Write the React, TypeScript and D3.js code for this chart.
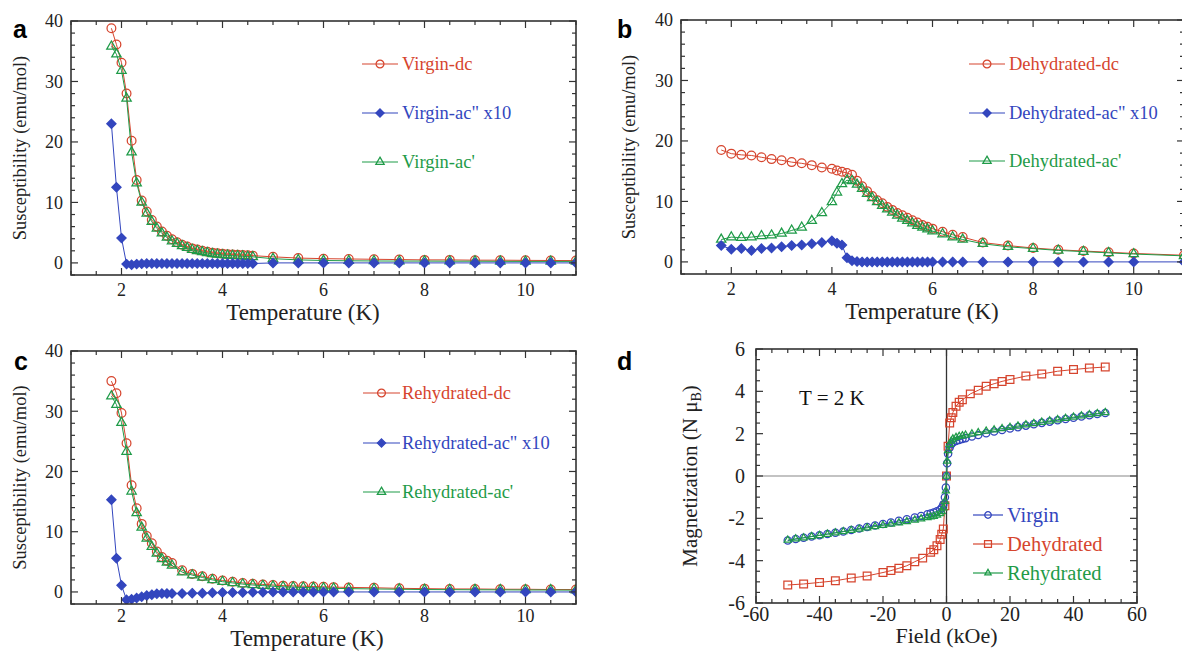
import React from 'react';
import * as d3 from 'd3';

const RED = '#d6452e';
const BLUE = '#3346be';
const GREEN = '#1f9b48';
const INK = '#222';
const SERIF = "'Liberation Serif', serif";
const SANS = "'Liberation Sans', Arial, sans-serif";

// ---------- Panel a: Virgin ----------
const tempA = [1.8,1.9,2.0,2.1,2.2,2.3,2.4,2.5,2.6,2.7,2.8,2.9,3.0,3.1,3.2,3.3,3.4,3.5,3.6,3.7,3.8,3.9,4.0,4.1,4.2,4.3,4.4,4.5,4.6,5.0,5.5,6.0,6.5,7.0,7.5,8.0,8.5,9.0,9.5,10.0,10.5,11.0];
const virginDc = [38.8,36.1,33.1,28.0,20.2,13.7,10.3,8.5,7.1,6.0,5.2,4.5,3.9,3.4,3.0,2.7,2.4,2.2,2.0,1.85,1.7,1.6,1.5,1.45,1.4,1.35,1.3,1.25,1.2,1.0,0.8,0.7,0.65,0.6,0.55,0.5,0.5,0.45,0.45,0.42,0.4,0.38];
const virginAc2 = [23.0,12.5,4.1,-0.2,-0.3,-0.2,-0.15,-0.1,-0.1,-0.1,-0.1,-0.1,-0.1,-0.1,-0.1,-0.1,-0.1,-0.1,-0.1,-0.1,-0.1,-0.1,-0.1,-0.1,-0.1,-0.1,-0.1,-0.1,-0.1,0,0,0,0,0,0,0,0,0,0,0,0,0];
const virginAc1 = [35.8,34.5,31.8,27.2,18.3,13.2,10.0,8.2,6.8,5.7,4.9,4.2,3.6,3.2,2.8,2.5,2.2,2.0,1.8,1.65,1.5,1.4,1.3,1.25,1.2,1.15,1.1,1.05,1.0,0.7,0.5,0.4,0.35,0.32,0.3,0.3,0.28,0.28,0.26,0.25,0.25,0.25];

// ---------- Panel b: Dehydrated ----------
const tempB = [1.8,2.0,2.2,2.4,2.6,2.8,3.0,3.2,3.4,3.6,3.8,4.0,4.1,4.2,4.3,4.4,4.5,4.6,4.7,4.8,4.9,5.0,5.1,5.2,5.3,5.4,5.5,5.6,5.7,5.8,5.9,6.0,6.2,6.4,6.6,7.0,7.5,8.0,8.5,9.0,9.5,10.0,11.0];
const dehydDc = [18.5,17.9,17.7,17.6,17.3,17.0,16.8,16.5,16.3,16.0,15.6,15.4,15.1,14.9,14.7,14.4,13.4,12.5,11.7,10.9,10.2,9.7,9.1,8.6,8.1,7.7,7.3,6.9,6.5,6.1,5.8,5.5,5.0,4.5,4.1,3.2,2.7,2.3,2.0,1.8,1.6,1.4,1.1];
const dehydAc2 = [2.7,2.1,2.2,1.9,2.2,2.3,2.5,2.7,2.8,3.0,3.2,3.5,3.1,2.8,0.7,0.2,0.05,0,0,0,0,0,0,0,0,0,0,0,0,0,0,0,0,0,0,0,0,0,0,0,0,0,0];
const dehydAc1 = [3.7,4.1,4.0,4.1,4.3,4.4,4.7,5.2,5.7,6.8,8.1,9.9,11.5,12.9,13.5,13.4,12.8,12.1,11.3,10.6,9.9,9.3,8.7,8.2,7.7,7.2,6.8,6.4,6.0,5.7,5.4,5.1,4.6,4.1,3.7,3.0,2.5,2.2,1.9,1.7,1.5,1.3,1.0];

// ---------- Panel c: Rehydrated ----------
const tempC = [1.8,1.9,2.0,2.1,2.2,2.3,2.4,2.5,2.6,2.7,2.8,2.9,3.0,3.2,3.4,3.6,3.8,4.0,4.2,4.4,4.6,4.8,5.0,5.2,5.4,5.6,5.8,6.0,6.2,6.5,7.0,7.5,8.0,8.5,9.0,9.5,10.0,10.5,11.0];
const rehydDc = [35.0,33.0,29.7,24.7,17.7,13.9,11.3,9.3,8.1,6.7,5.8,5.2,4.8,3.6,3.0,2.6,2.2,1.9,1.7,1.5,1.35,1.25,1.15,1.05,1.0,0.95,0.9,0.85,0.8,0.75,0.7,0.6,0.55,0.5,0.5,0.45,0.45,0.4,0.4];
const rehydAc2 = [15.3,5.6,1.1,-1.3,-1.2,-1.0,-0.8,-0.6,-0.45,-0.3,-0.25,-0.25,-0.25,-0.25,-0.2,-0.2,-0.15,-0.1,-0.1,-0.1,-0.05,-0.05,0,0,0,0,0,0,0,0,0,0,0,0,0,0,0,0,0];
const rehydAc1 = [32.5,31.1,28.1,23.3,16.7,13.1,10.7,8.9,7.5,6.4,5.5,4.9,4.4,3.3,2.8,2.4,2.0,1.7,1.5,1.3,1.15,1.05,0.95,0.85,0.8,0.75,0.7,0.65,0.6,0.55,0.5,0.45,0.4,0.38,0.36,0.35,0.33,0.32,0.3];

// ---------- Panel d: M(H) at 2 K ----------
const fieldVR = [-50,-47.5,-45,-42.5,-40,-37.5,-35,-32.5,-30,-27.5,-25,-22.5,-20,-17.5,-15,-12.5,-10,-8,-6,-5,-4,-3,-2,-1.5,-1,-0.5,-0.2,0,0.2,0.5,1,1.5,2,3,4,5,6,8,10,12.5,15,17.5,20,22.5,25,27.5,30,32.5,35,37.5,40,42.5,45,47.5,50];
const virginM = [-3.05,-2.98,-2.92,-2.86,-2.8,-2.74,-2.68,-2.62,-2.55,-2.48,-2.41,-2.34,-2.27,-2.2,-2.12,-2.04,-1.96,-1.89,-1.81,-1.77,-1.72,-1.67,-1.6,-1.5,-1.35,-1.0,-0.55,0,0.6,1.05,1.35,1.5,1.58,1.65,1.7,1.75,1.79,1.87,1.94,2.02,2.1,2.17,2.24,2.31,2.38,2.45,2.51,2.57,2.63,2.69,2.75,2.81,2.87,2.93,2.98];
const rehydM = [-3.03,-2.97,-2.92,-2.86,-2.81,-2.75,-2.69,-2.63,-2.57,-2.51,-2.45,-2.39,-2.33,-2.27,-2.21,-2.15,-2.08,-2.02,-1.96,-1.93,-1.9,-1.85,-1.78,-1.68,-1.5,-1.2,-0.7,0,0.7,1.2,1.5,1.65,1.75,1.82,1.87,1.9,1.93,1.99,2.05,2.12,2.18,2.24,2.3,2.36,2.42,2.48,2.54,2.6,2.66,2.72,2.78,2.84,2.9,2.95,3.0];
const fieldD = [-50,-45,-40,-35,-30,-25,-20,-17.5,-15,-12.5,-10,-7.5,-5,-4,-3,-2,-1.5,-1,-0.5,0,0.5,1,1.5,2,3,4,5,7.5,10,12.5,15,17.5,20,25,30,35,40,45,50];
const dehydM = [-5.15,-5.1,-5.03,-4.95,-4.82,-4.72,-4.56,-4.47,-4.36,-4.24,-4.05,-3.88,-3.6,-3.48,-3.3,-3.0,-2.75,-2.5,-1.4,0,1.4,2.5,2.75,3.0,3.3,3.48,3.6,3.88,4.05,4.24,4.36,4.47,4.56,4.72,4.82,4.95,5.03,5.1,5.15];

// ticks
const tempMajor = [2, 4, 6, 8, 10];
const susMajor = [0, 10, 20, 30, 40];
const fieldMajor = [-60, -40, -20, 0, 20, 40, 60];
const magMajor = [-6, -4, -2, 0, 2, 4, 6];

type Marker = 'circle' | 'diamond' | 'triangle' | 'square';

function markerPath(m: Marker, size: number): string {
  if (m === 'diamond') {
    const r = Math.sqrt(size) * 0.62;
    return `M0,${-r}L${r},0L0,${r}L${-r},0Z`;
  }
  const t = m === 'triangle' ? d3.symbolTriangle : m === 'square' ? d3.symbolSquare : d3.symbolCircle;
  return d3.symbol().type(t).size(size)() as string;
}

function MarkerShape({ m, x, y, color, size }: { m: Marker; x: number; y: number; color: string; size: number }) {
  const filled = m === 'diamond';
  return (
    <path
      d={markerPath(m, size)}
      transform={`translate(${x},${y})`}
      fill={filled ? color : 'none'}
      stroke={color}
      strokeWidth={1.25}
    />
  );
}

interface Series { xs: number[]; ys: number[]; color: string; marker: Marker; size: number; label: string }

function Frame({ x, y, xMinorStep, yMinorStep, xMajor, yMajor, xMin, xMax, yMin, yMax, fontSize, labelOffset, yLabelGap }: any) {
  const [x0, x1] = x.range();
  const [yb, yt] = y.range();
  const xMinor = d3.range(Math.round(xMin / xMinorStep), Math.round(xMax / xMinorStep) + 1).map((k: number) => k * xMinorStep);
  const yMinor = d3.range(Math.ceil(yMin / yMinorStep), Math.floor(yMax / yMinorStep) + 1).map((k: number) => k * yMinorStep);
  const isMajor = (v: number, arr: number[]) => arr.some((a) => Math.abs(a - v) < 1e-6);
  const ticks: any[] = [];
  xMinor.forEach((v: number, i: number) => {
    const px = x(v);
    const L = isMajor(v, xMajor) ? 7 : 4;
    ticks.push(<line key={'xb' + i} x1={px} x2={px} y1={yb} y2={yb - L} />);
    ticks.push(<line key={'xt' + i} x1={px} x2={px} y1={yt} y2={yt + L} />);
  });
  yMinor.forEach((v: number, i: number) => {
    const py = y(v);
    const L = isMajor(v, yMajor) ? 7 : 4;
    ticks.push(<line key={'yl' + i} x1={x0} x2={x0 + L} y1={py} y2={py} />);
    ticks.push(<line key={'yr' + i} x1={x1} x2={x1 - L} y1={py} y2={py} />);
  });
  return (
    <g>
      <g stroke="#333" strokeWidth={1.2}>{ticks}</g>
      <rect x={x0} y={yt} width={x1 - x0} height={yb - yt} fill="none" stroke="#333" strokeWidth={1.6} />
      <g style={{ fontFamily: SERIF }} fontSize={fontSize} fill={INK}>
        {xMajor.map((v: number) => (
          <text key={'xl' + v} x={x(v)} y={yb + labelOffset} textAnchor="middle">{v < 0 ? '-' + Math.abs(v) : v}</text>
        ))}
        {yMajor.map((v: number) => (
          <text key={'yl' + v} x={x0 - yLabelGap} y={y(v)} dy="0.35em" textAnchor="end">{v < 0 ? '-' + Math.abs(v) : v}</text>
        ))}
      </g>
    </g>
  );
}

function SeriesMarks({ s, x, y }: { s: Series; x: any; y: any }) {
  const pts = s.xs.map((v, i) => [x(v), y(s.ys[i])] as [number, number]);
  const line = d3.line()(pts) as string;
  return (
    <g>
      <path d={line} fill="none" stroke={s.color} strokeWidth={1} />
      {pts.map((p, i) => (
        <MarkerShape key={i} m={s.marker} x={p[0]} y={p[1]} color={s.color} size={s.size} />
      ))}
    </g>
  );
}

function Legend({ series, lx0, lx1, tx, rows, fontSize }: { series: Series[]; lx0: number; lx1: number; tx: number; rows: number[]; fontSize: number }) {
  return (
    <g>
      {series.map((s, i) => (
        <g key={i}>
          <line x1={lx0} x2={lx1} y1={rows[i]} y2={rows[i]} stroke={s.color} strokeWidth={1.2} />
          <MarkerShape m={s.marker} x={(lx0 + lx1) / 2} y={rows[i]} color={s.color} size={s.size * 0.8} />
          <text x={tx} y={rows[i]} dy="0.33em" style={{ fontFamily: SERIF }} fontSize={fontSize} fill={s.color}>{s.label}</text>
        </g>
      ))}
    </g>
  );
}

function SusPanel({ letter, letterX, letterY, xr, yr, temps, dc, ac2, ac1, names, legend, yTitleX, xTitleX, xTitleOffset, tickOffset }: any) {
  const x = d3.scaleLinear().domain([1, 11]).range(xr);
  const y = d3.scaleLinear().domain([-2, 40]).range(yr);
  const sDc: Series = { xs: temps, ys: dc, color: RED, marker: 'circle', size: 60, label: names[0] };
  const sAc2: Series = { xs: temps, ys: ac2, color: BLUE, marker: 'diamond', size: 55, label: names[1] };
  const sAc1: Series = { xs: temps, ys: ac1, color: GREEN, marker: 'triangle', size: 38, label: names[2] };
  const clipId = 'clip' + letter;
  return (
    <g>
      <defs>
        <clipPath id={clipId}>
          <rect x={xr[0]} y={yr[1]} width={xr[1] - xr[0]} height={yr[0] - yr[1]} />
        </clipPath>
      </defs>
      <g clipPath={`url(#${clipId})`}>
        <SeriesMarks s={sDc} x={x} y={y} />
        <SeriesMarks s={sAc1} x={x} y={y} />
        <SeriesMarks s={sAc2} x={x} y={y} />
      </g>
      <Frame x={x} y={y} xMinorStep={0.5} yMinorStep={2} xMajor={tempMajor} yMajor={susMajor} xMin={1} xMax={11} yMin={-2} yMax={40} fontSize={18} labelOffset={tickOffset} yLabelGap={8} />
      <Legend series={[sDc, sAc2, sAc1]} lx0={legend.lx0} lx1={legend.lx1} tx={legend.tx} rows={legend.rows} fontSize={18.5} />
      <text x={xTitleX} y={yr[0] + xTitleOffset} textAnchor="middle" style={{ fontFamily: SERIF }} fontSize={23} fill={INK}>Temperature (K)</text>
      <text transform={`translate(${yTitleX},${(yr[0] + yr[1]) / 2}) rotate(-90)`} textAnchor="middle" dominantBaseline="central" style={{ fontFamily: SERIF }} fontSize={18.5} fill={INK}>Susceptibility (emu/mol)</text>
      <text x={letterX} y={letterY} style={{ fontFamily: SANS }} fontWeight="bold" fontSize={25} fill="#000">{letter}</text>
    </g>
  );
}

function MPanel() {
  const x = d3.scaleLinear().domain([-60, 60]).range([756, 1137]);
  const y = d3.scaleLinear().domain([-6, 6]).range([603, 349]);
  const sV: Series = { xs: fieldVR, ys: virginM, color: BLUE, marker: 'circle', size: 42, label: 'Virgin' };
  const sD: Series = { xs: fieldD, ys: dehydM, color: RED, marker: 'square', size: 60, label: 'Dehydrated' };
  const sR: Series = { xs: fieldVR, ys: rehydM, color: GREEN, marker: 'triangle', size: 22, label: 'Rehydrated' };
  return (
    <g>
      <line x1={756} x2={1137} y1={y(0)} y2={y(0)} stroke="#888" strokeWidth={1.2} />
      <line x1={x(0)} x2={x(0)} y1={349} y2={603} stroke="#333" strokeWidth={1.3} />
      <SeriesMarks s={sD} x={x} y={y} />
      <SeriesMarks s={sV} x={x} y={y} />
      <SeriesMarks s={sR} x={x} y={y} />
      <Frame x={x} y={y} xMinorStep={5} yMinorStep={0.5} xMajor={fieldMajor} yMajor={magMajor} xMin={-60} xMax={60} yMin={-6} yMax={6} fontSize={20} labelOffset={18} yLabelGap={11} />
      <Legend series={[sV, sD, sR]} lx0={973} lx1={1003} tx={1007} rows={[515, 544, 573]} fontSize={20.5} />
      <text x={799} y={405} style={{ fontFamily: SERIF }} fontSize={21} fill="#111">T = 2 K</text>
      <text x={x(0)} y={643} textAnchor="middle" style={{ fontFamily: SERIF }} fontSize={22} fill={INK}>Field (kOe)</text>
      <text transform={`translate(690,476) rotate(-90)`} textAnchor="middle" dominantBaseline="central" style={{ fontFamily: SERIF }} fontSize={21} fill={INK}>
        <tspan>Magnetization (N μ</tspan>
        <tspan fontSize={14} dy={6}>B</tspan>
        <tspan dy={-6}>)</tspan>
      </text>
      <text x={617} y={370} style={{ fontFamily: SANS }} fontWeight="bold" fontSize={25} fill="#000">d</text>
    </g>
  );
}

export default function App() {
  return (
    <svg width={1182} height={651} viewBox="0 0 1182 651" style={{ position: 'absolute', left: 0, top: 0, background: '#fff' }}>
      <rect x={0} y={0} width={1182} height={651} fill="#fff" />
      <SusPanel letter="a" letterX={13} letterY={38} xr={[71, 576]} yr={[275, 21]} temps={tempA} dc={virginDc} ac2={virginAc2} ac1={virginAc1}
        names={['Virgin-dc', 'Virgin-ac" x10', "Virgin-ac'"]} legend={{ lx0: 362, lx1: 398, tx: 402, rows: [64, 113, 162] }} yTitleX={20} xTitleX={303} xTitleOffset={45} tickOffset={21} />
      <SusPanel letter="b" letterX={617} letterY={38} xr={[681, 1184]} yr={[274, 20]} temps={tempB} dc={dehydDc} ac2={dehydAc2} ac1={dehydAc1}
        names={['Dehydrated-dc', 'Dehydrated-ac" x10', "Dehydrated-ac'"]} legend={{ lx0: 969, lx1: 1005, tx: 1009, rows: [64, 113, 161] }} yTitleX={629} xTitleX={922} xTitleOffset={45} tickOffset={21} />
      <SusPanel letter="c" letterX={14} letterY={370} xr={[71, 576]} yr={[604, 351]} temps={tempC} dc={rehydDc} ac2={rehydAc2} ac1={rehydAc1}
        names={['Rehydrated-dc', 'Rehydrated-ac" x10', "Rehydrated-ac'"]} legend={{ lx0: 363, lx1: 400, tx: 402, rows: [393, 443, 492] }} yTitleX={20} xTitleX={307} xTitleOffset={42} tickOffset={18} />
      <MPanel />
    </svg>
  );
}
